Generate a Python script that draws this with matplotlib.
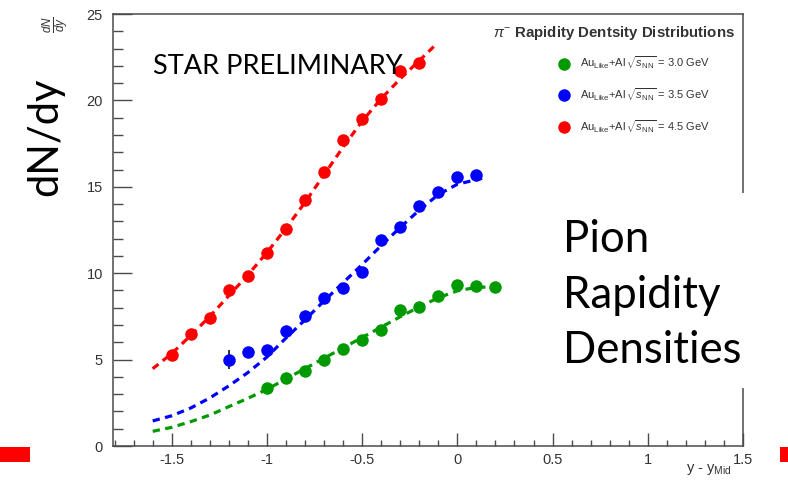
import matplotlib
matplotlib.use("Agg")
import matplotlib.pyplot as plt
from matplotlib.patches import Rectangle

# ---- measured dN/dy of pi- versus y - y_mid ----
rap_30 = [-1.0, -0.9, -0.8, -0.7, -0.6, -0.5, -0.4, -0.3, -0.2, -0.1, 0.0, 0.1, 0.2]
dndy_30 = [3.34, 3.91, 4.36, 4.98, 5.61, 6.13, 6.71, 7.87, 8.06, 8.68, 9.32, 9.28, 9.22]

rap_35 = [-1.2, -1.1, -1.0, -0.9, -0.8, -0.7, -0.6, -0.5, -0.4, -0.3, -0.2, -0.1, 0.0, 0.1]
dndy_35 = [4.98, 5.46, 5.56, 6.67, 7.52, 8.54, 9.14, 10.07, 11.92, 12.69, 13.89, 14.68, 15.59, 15.68]
err_35 = [0.55, 0, 0, 0, 0, 0, 0, 0, 0, 0, 0, 0, 0, 0]

rap_45 = [-1.5, -1.4, -1.3, -1.2, -1.1, -1.0, -0.9, -0.8, -0.7, -0.6, -0.5, -0.4, -0.3, -0.2]
dndy_45 = [5.27, 6.46, 7.39, 9.03, 9.86, 11.15, 12.56, 14.22, 15.84, 17.71, 18.92, 20.06, 21.70, 22.15]

# ---- fit curves ----
fit_x_30 = [-1.6, -1.5, -1.4, -1.3, -1.2, -1.1, -1.0, -0.9, -0.8, -0.7, -0.6, -0.5,
            -0.4, -0.3, -0.2, -0.1, 0.0, 0.1, 0.235]
fit_y_30 = [0.85, 1.08, 1.41, 1.79, 2.28, 2.76, 3.28, 3.88, 4.48, 5.08, 5.68, 6.28,
            6.88, 7.48, 8.05, 8.58, 8.98, 9.18, 9.22]

fit_x_35 = [-1.6, -1.5, -1.4, -1.3, -1.2, -1.1, -1.0, -0.9, -0.8, -0.7, -0.6, -0.5,
            -0.4, -0.3, -0.2, -0.1, 0.0, 0.13]
fit_y_35 = [1.45, 1.75, 2.2, 2.78, 3.48, 4.25, 5.15, 6.25, 7.3, 8.4, 9.45, 10.5,
            11.6, 12.65, 13.65, 14.55, 15.15, 15.49]

fit_x_45 = [-1.6, -1.5, -1.4, -1.3, -1.2, -1.1, -1.0, -0.9, -0.8, -0.7, -0.6, -0.5,
            -0.4, -0.3, -0.2, -0.116]
fit_y_45 = [4.47, 5.35, 6.4, 7.5, 8.7, 9.9, 11.2, 12.6, 14.1, 15.7, 17.3, 18.8,
            20.1, 21.25, 22.3, 23.2]

series_labels = [r"Au$_{\mathrm{Like}}$+Al$\,\sqrt{s_{\mathrm{NN}}}$ = 3.0 GeV",
                 r"Au$_{\mathrm{Like}}$+Al$\,\sqrt{s_{\mathrm{NN}}}$ = 3.5 GeV",
                 r"Au$_{\mathrm{Like}}$+Al$\,\sqrt{s_{\mathrm{NN}}}$ = 4.5 GeV"]

x_ticks = [-1.5, -1, -0.5, 0, 0.5, 1, 1.5]
x_ticklabels = ["-1.5", "-1", "-0.5", "0", "0.5", "1", "1.5"]
y_ticks = [0, 5, 10, 15, 20, 25]

GREEN, BLUE, RED = "#009a00", "#0000ff", "#ff0000"
AXC = "#4a4a4a"

plt.rcParams["mathtext.fontset"] = "custom"
plt.rcParams["mathtext.rm"] = "Liberation Sans"
plt.rcParams["mathtext.it"] = "Liberation Sans:italic"
plt.rcParams["mathtext.bf"] = "Liberation Sans:bold"

W, H = 788, 490
fig = plt.figure(figsize=(W / 100, H / 100), dpi=100)
ax = fig.add_axes([112.7 / W, 1 - 446 / H, (743 - 112.7) / W, (446 - 14) / H])

dash = dict(linestyle=(0, (2.3, 1.7)), linewidth=2.3, zorder=2)
ax.plot(fit_x_30, fit_y_30, color=GREEN, **dash)
ax.plot(fit_x_35, fit_y_35, color=BLUE, **dash)
ax.plot(fit_x_45, fit_y_45, color=RED, **dash)

ax.errorbar(rap_35, dndy_35, yerr=err_35, fmt="none", ecolor="#333333",
            elinewidth=1.4, capsize=0, zorder=3)

mk = dict(marker="o", linestyle="none", markersize=9, markeredgewidth=0, zorder=4)
h30, = ax.plot(rap_30, dndy_30, color=GREEN, **mk)
h35, = ax.plot(rap_35, dndy_35, color=BLUE, **mk)
h45, = ax.plot(rap_45, dndy_45, color=RED, **mk)

ax.set_xlim(-1.81, 1.5)
ax.set_ylim(0, 25)
ax.set_xticks(x_ticks)
ax.set_xticklabels(x_ticklabels)
ax.set_xticks([v / 10 for v in range(-18, 16)], minor=True)
ax.set_yticks(y_ticks)
ax.set_yticks(range(0, 26), minor=True)

for s in ax.spines.values():
    s.set_color(AXC)
    s.set_linewidth(1.1)

ax.tick_params(axis="y", which="major", direction="in", length=13.5, width=1.0,
               color=AXC, labelcolor="#333333", labelsize=10.5, pad=7)
ax.tick_params(axis="y", which="minor", direction="in", length=7, width=1.0, color=AXC)
ax.tick_params(axis="x", which="major", direction="in", length=9.5, width=1.0,
               color=AXC, labelcolor="#333333", labelsize=10.5, pad=5)
ax.tick_params(axis="x", which="minor", direction="in", length=4.6, width=1.0, color=AXC)
for lab in ax.get_xticklabels() + ax.get_yticklabels():
    lab.set_family("Liberation Sans")

# axis titles in the plot style
fig.text(732 / W, 1 - 469 / H, r"y - y$_{\mathrm{Mid}}$", ha="right", va="center",
         fontsize=10.5, color="#333333", family="Liberation Sans")
fig.text(56 / W, 1 - 25 / H, r"$\frac{dN}{dy}$", rotation=90, ha="center", va="center",
         fontsize=12, color="#333333")

# legend
fig.text(735 / W, 1 - 33 / H, r"$\pi^{-}$ Rapidity Dentsity Distributions", ha="right",
         va="center", fontsize=10.8, fontweight="bold", color="#333333",
         family="Liberation Sans")
leg = ax.legend([h30, h35, h45], series_labels, loc="upper left",
                bbox_to_anchor=(553 / W, 1 - 49 / H), bbox_transform=fig.transFigure,
                frameon=False, fontsize=8, handlelength=0.95, handletextpad=0.95,
                labelspacing=1.35, borderpad=0, markerscale=1.0)
for t in leg.get_texts():
    t.set_color("#333333")
    t.set_family("Liberation Sans")

# slide annotations
SLIDE_FONT = "Lato"
fig.text(153 / W, 1 - 66 / H, "STAR PRELIMINARY", ha="left", va="center",
         fontsize=19.5, color="black", family=SLIDE_FONT, zorder=5)
fig.text(45 / W, 1 - 137 / H, "dN/dy", rotation=90, ha="center", va="center",
         fontsize=30, color="black", family=SLIDE_FONT)

fig.patches.append(Rectangle((550 / W, 1 - 388 / H), 220 / W, 195 / H,
                             transform=fig.transFigure, facecolor="white",
                             edgecolor="none", zorder=10))
fig.text(563 / W, 1 - 295 / H, "Pion\nRapidity\nDensities", ha="left", va="center",
         fontsize=31.5, linespacing=1.45, color="black", family=SLIDE_FONT, zorder=11)

fig.patches.append(Rectangle((0, 1 - 462 / H), 30 / W, 15 / H, transform=fig.transFigure,
                             facecolor="#ff0000", edgecolor="none", zorder=10))
fig.patches.append(Rectangle((780 / W, 1 - 462 / H), 8 / W, 15 / H,
                             transform=fig.transFigure, facecolor="#ff0000",
                             edgecolor="none", zorder=10))

fig.savefig("out.png", dpi=100)
